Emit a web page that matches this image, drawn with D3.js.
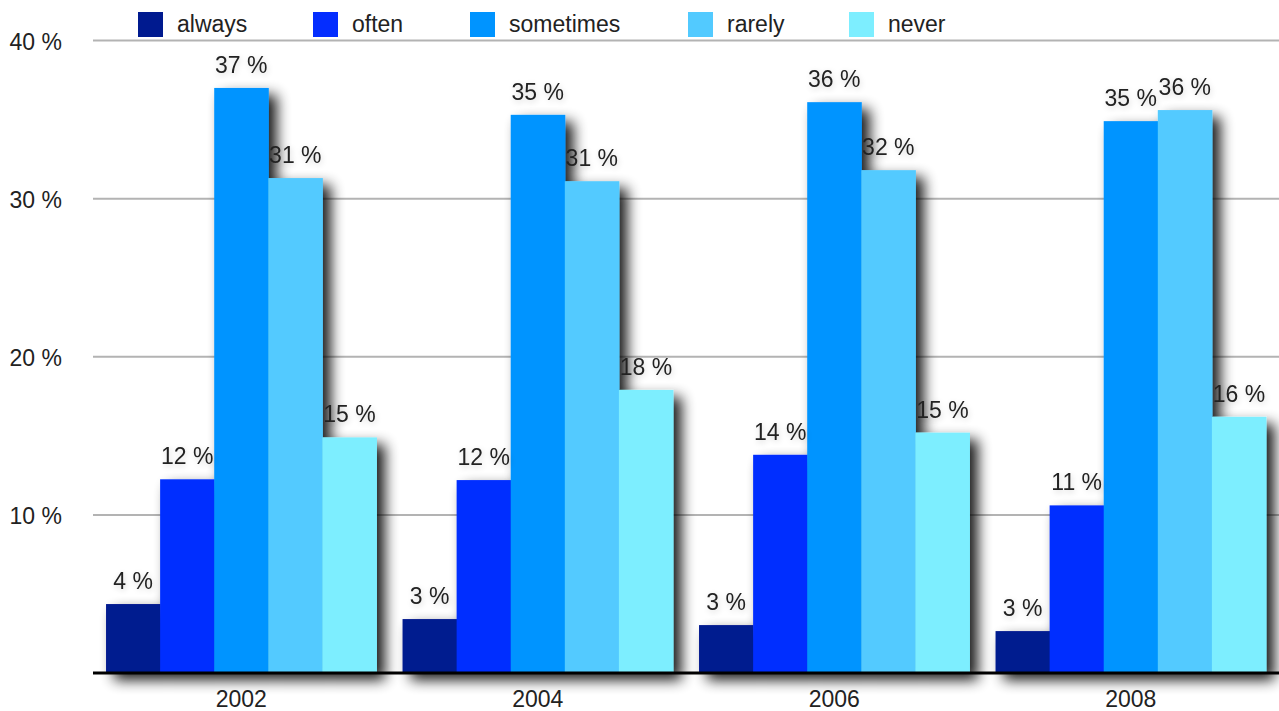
<!DOCTYPE html>
<html>
<head>
<meta charset="utf-8">
<script src="https://cdn.jsdelivr.net/npm/d3@7/dist/d3.min.js"></script>
<style>
  html, body { margin: 0; padding: 0; background: #fff; }
  svg { display: block; }
  text { font-family: "Liberation Sans", Arial, Helvetica, sans-serif; fill: #222; }
</style>
</head>
<body>
<svg id="chart" width="1279" height="711"></svg>
<script>
const years = ["2002", "2004", "2006", "2008"];
const series = ["always", "often", "sometimes", "rarely", "never"];
const colors = ["#001a8f", "#042dff", "#0094ff", "#52caff", "#7deeff"];
const always    = [4.36, 3.41, 3.03, 2.65];
const often     = [12.25, 12.2, 13.8, 10.6];
const sometimes = [37.0, 35.3, 36.1, 34.9];
const rarely    = [31.3, 31.1, 31.8, 35.6];
const never     = [14.9, 17.9, 15.2, 16.2];
const yTicks = [10, 20, 30, 40];
const values = [always, often, sometimes, rarely, never];

const svg = d3.select("#chart");
const mLeft = 93, mRight = 1279, mTop = 40.5, mBottom = 673;

const defs = svg.append("defs");
const shadow = defs.append("filter").attr("id", "barShadow")
  .attr("x", "-20%").attr("y", "-20%").attr("width", "150%").attr("height", "150%");
shadow.append("feGaussianBlur").attr("in", "SourceAlpha").attr("stdDeviation", 7).attr("result", "blur");
shadow.append("feOffset").attr("in", "blur").attr("dx", 8).attr("dy", 7).attr("result", "off");
shadow.append("feComponentTransfer").attr("in", "off").attr("result", "off2")
  .append("feFuncA").attr("type", "linear").attr("slope", 0.9);
const m1 = shadow.append("feMerge");
m1.append("feMergeNode").attr("in", "off2");
m1.append("feMergeNode").attr("in", "SourceGraphic");

const glow = defs.append("filter").attr("id", "textGlow")
  .attr("x", "-30%").attr("y", "-50%").attr("width", "160%").attr("height", "200%");
glow.append("feGaussianBlur").attr("in", "SourceAlpha").attr("stdDeviation", 3).attr("result", "b");
glow.append("feOffset").attr("in", "b").attr("dx", 1).attr("dy", 2).attr("result", "o");
glow.append("feComponentTransfer").attr("in", "o").attr("result", "o2")
  .append("feFuncA").attr("type", "linear").attr("slope", 0.18);
const m2 = glow.append("feMerge");
m2.append("feMergeNode").attr("in", "o2");
m2.append("feMergeNode").attr("in", "SourceGraphic");

const y = d3.scaleLinear().domain([0, 40]).range([mBottom, mTop]);
const x0 = d3.scaleBand().domain(years).range([mLeft, mRight]).paddingInner(0.088).paddingOuter(0.044);
const x1 = d3.scaleBand().domain(series).range([0, x0.bandwidth()]);
const color = d3.scaleOrdinal().domain(series).range(colors);

// gridlines
svg.append("g").selectAll("line").data(yTicks).join("line")
  .attr("x1", mLeft).attr("x2", mRight)
  .attr("y1", d => y(d)).attr("y2", d => y(d))
  .attr("stroke", "#b3b3b3").attr("stroke-width", 2);

// y labels
svg.append("g").selectAll("text").data(yTicks).join("text")
  .attr("x", 62).attr("y", d => y(d) + 9)
  .attr("text-anchor", "end").attr("font-size", 23)
  .text(d => d + " %");

// bars
const groups = svg.append("g").selectAll("g").data(years).join("g")
  .attr("transform", d => `translate(${x0(d)},0)`)
  .attr("filter", "url(#barShadow)");
groups.selectAll("rect").data((d, i) => series.map((s, j) => ({ s, v: values[j][i] }))).join("rect")
  .attr("x", d => x1(d.s)).attr("width", x1.bandwidth() + 0.5)
  .attr("y", d => y(d.v)).attr("height", d => y(0) - y(d.v))
  .attr("fill", d => color(d.s));

// axis line
svg.append("line").attr("x1", mLeft).attr("x2", mRight)
  .attr("y1", mBottom).attr("y2", mBottom)
  .attr("stroke", "#000").attr("stroke-width", 3);

// value labels
const lab = svg.append("g").attr("filter", "url(#textGlow)");
years.forEach((yr, i) => {
  series.forEach((s, j) => {
    const v = values[j][i];
    lab.append("text")
      .attr("x", x0(yr) + x1(s) + x1.bandwidth() / 2)
      .attr("y", y(v) - 15)
      .attr("text-anchor", "middle").attr("font-size", 23)
      .text(Math.round(v) + " %");
  });
});

// x labels
svg.append("g").selectAll("text").data(years).join("text")
  .attr("x", d => x0(d) + x0.bandwidth() / 2).attr("y", 707)
  .attr("text-anchor", "middle").attr("font-size", 23)
  .text(d => d);

// legend
const legendX = [138, 313, 470, 688, 849];
const lg = svg.append("g").selectAll("g").data(series).join("g")
  .attr("transform", (d, i) => `translate(${legendX[i]},12)`);
lg.append("rect").attr("width", 25).attr("height", 25).attr("fill", d => color(d));
lg.append("text").attr("x", 39).attr("y", 20).attr("font-size", 23).text(d => d);
</script>
</body>
</html>
